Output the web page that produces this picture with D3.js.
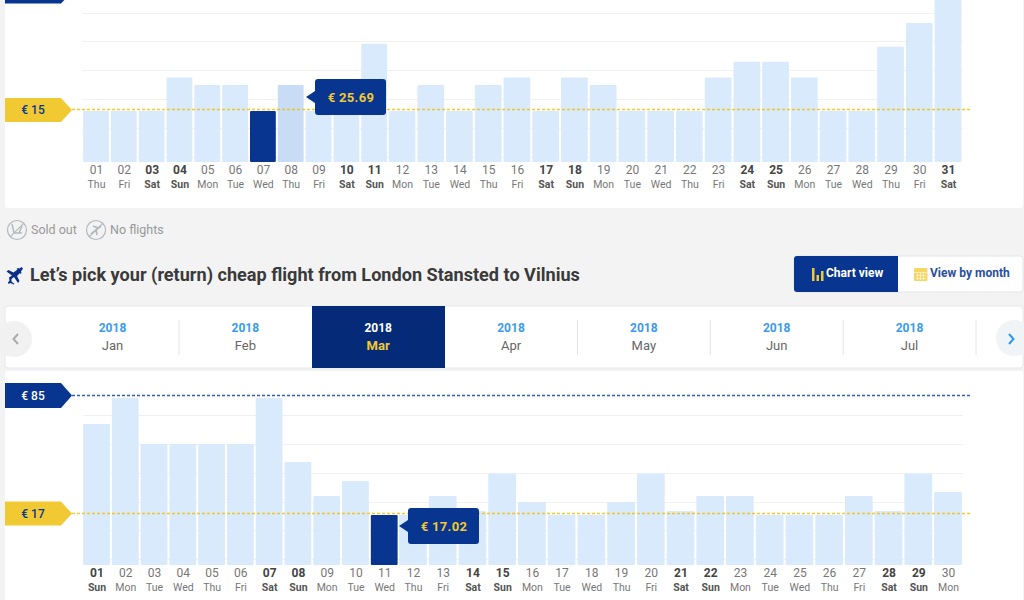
<!DOCTYPE html>
<html>
<head>
    <title></title>
    <style>
        html, body { margin: 0; padding: 0; background: #f3f3f3; overflow: hidden; }
        text { font-family: Roboto, sans-serif; }
    </style>
</head>
<body>
<script src="https://d3js.org/d3.v7.min.js"></script>
<script type="text/javascript">

    var daysOut = ['01','02','03','04','05','06','07','08','09','10','11','12','13','14','15','16','17','18','19','20','21','22','23','24','25','26','27','28','29','30','31'];
    var weekdaysOut = ['Thu','Fri','Sat','Sun','Mon','Tue','Wed','Thu','Fri','Sat','Sun','Mon','Tue','Wed','Thu','Fri','Sat','Sun','Mon','Tue','Wed','Thu','Fri','Sat','Sun','Mon','Tue','Wed','Thu','Fri','Sat'];
    var pricesOut = [15,15,15,28.8,25.69,25.69,15,25.69,15,15,42.6,15,25.69,15,25.69,28.8,15,28.8,25.69,15,15,15,28.8,35.2,35.2,28.8,15,15,41.4,51.2,62.8];

    var daysBack = ['01','02','03','04','05','06','07','08','09','10','11','12','13','14','15','16','17','18','19','20','21','22','23','24','25','26','27','28','29','30'];
    var weekdaysBack = ['Sun','Mon','Tue','Wed','Thu','Fri','Sat','Sun','Mon','Tue','Wed','Thu','Fri','Sat','Sun','Mon','Tue','Wed','Thu','Fri','Sat','Sun','Mon','Tue','Wed','Thu','Fri','Sat','Sun','Mon'];
    var pricesBack = [69.9,85,58.3,58.3,58.3,58.3,85,47.8,28.1,36.8,17.02,17.02,28.1,19.3,41.1,24.6,17.02,17.02,24.6,41.1,19.3,28.1,28.1,17.02,17.02,17.02,28.1,19.3,41.1,30.4];

    var gridOut = [-3.9,8,19.8,31.7,43.6,55.4];
    var gridBack = [-8.5,8.3,24.6,41.4,58.3,75.1];

    var carouselYears = ['2018','2018','2018','2018','2018','2018','2018'];
    var carouselMonths = ['Jan','Feb','Mar','Apr','May','Jun','Jul'];

    var navy = '#073590';
    var yellow = '#f1c933';
    var barBlue = '#d9eafd';

    var canvas = d3.select('body')
                    .append('svg')
                        .attr('width', 1024)
                        .attr('height', 600)
                        .style('display', 'block');

    // white cards
    canvas.append('rect').attr('x', 5).attr('y', -5).attr('width', 1018).attr('height', 213).attr('rx', 3).attr('fill', '#fff');
    canvas.append('rect').attr('x', 5).attr('y', 371).attr('width', 1018).attr('height', 240).attr('rx', 3).attr('fill', '#fff');

    function tag(cy, h, label, bg, fg) {
        var t = h / 2;
        canvas.append('path')
            .attr('d', 'M5 ' + (cy - t) + 'H61L72 ' + cy + 'L61 ' + (cy + t) + 'H5Z')
            .attr('fill', bg);
        canvas.append('text')
            .attr('x', 33).attr('y', cy + 4.5)
            .attr('text-anchor', 'middle')
            .attr('font-size', 12).attr('font-weight', 500)
            .attr('fill', fg)
            .text(label);
    }

    function tooltip(x, y, label) {
        canvas.append('path')
            .attr('d', 'M' + (x + 3) + ' ' + y + 'H' + (x + 68) + 'q3 0 3 3V' + (y + 33) + 'q0 3 -3 3H' + (x + 3) + 'q-3 0 -3 -3V' + (y + 24) + 'L' + (x - 9) + ' ' + (y + 18) + 'L' + x + ' ' + (y + 12) + 'V' + (y + 3) + 'q0 -3 3 -3Z')
            .attr('fill', navy);
        canvas.append('text')
            .attr('x', x + 36).attr('y', y + 22.5)
            .attr('text-anchor', 'middle')
            .attr('font-size', 13).attr('font-weight', 700)
            .attr('letter-spacing', 0.3)
            .attr('fill', yellow)
            .text(label);
    }

    function isWeekend(w) { return w === 'Sat' || w === 'Sun'; }

    // xScale runs on the day index: the reference spacing widens after the 12th
    function drawMonth(days, weekdays, prices, grid, xScale, yScale, baseY, selected, hovered, gridX) {
        var barW = function(i) {
            var j = Math.min(i, days.length - 2);
            return xScale(j + 1) - xScale(j) - 2;
        };

        canvas.append('g').selectAll('line')
            .data(grid)
            .enter()
            .append('line')
                .attr('x1', gridX)
                .attr('x2', 963)
                .attr('y1', function(d) { return Math.round(yScale(d)) + 0.5; })
                .attr('y2', function(d) { return Math.round(yScale(d)) + 0.5; })
                .attr('stroke', '#f1f1f1')
                .attr('stroke-width', 1);

        canvas.append('g').selectAll('rect')
            .data(prices)
            .enter()
            .append('rect')
                .attr('x', function(d, i) { return xScale(i) - barW(i) / 2; })
                .attr('y', function(d) { return yScale(d); })
                .attr('width', function(d, i) { return barW(i); })
                .attr('height', function(d) { return baseY - yScale(d); })
                .attr('rx', 1)
                .attr('fill', function(d, i) {
                    if (i === selected) return navy;
                    if (i === hovered) return '#c8dcf5';
                    return barBlue;
                });

        var axis = d3.axisBottom(xScale)
                    .tickValues(d3.range(days.length))
                    .tickFormat(function(i) { return days[i]; })
                    .tickSize(0)
                    .tickPadding(3);
        var axisG = canvas.append('g')
                        .attr('transform', 'translate(0,' + baseY + ')')
                        .call(axis);
        axisG.select('.domain').remove();
        axisG.selectAll('.tick text')
            .style('font-family', 'Roboto, sans-serif')
            .attr('font-size', 12)
            .attr('font-weight', function(i) { return isWeekend(weekdays[i]) ? 700 : 400; })
            .attr('fill', function(i) { return isWeekend(weekdays[i]) ? '#444' : '#777'; });
        axisG.selectAll('.tick').append('text')
            .attr('y', 26)
            .attr('text-anchor', 'middle')
            .style('font-family', 'Roboto, sans-serif')
            .attr('font-size', 10.5)
            .attr('font-weight', function(i) { return isWeekend(weekdays[i]) ? 700 : 400; })
            .attr('fill', function(i) { return isWeekend(weekdays[i]) ? '#555' : '#777'; })
            .text(function(i) { return weekdays[i]; });
    }

    function dashed(y, color) {
        canvas.append('line')
            .attr('x1', 72).attr('x2', 971)
            .attr('y1', Math.floor(y) + 0.5).attr('y2', Math.floor(y) + 0.5)
            .attr('stroke', color)
            .attr('stroke-width', 1.4)
            .attr('stroke-opacity', 0.85)
            .attr('stroke-dasharray', '3,2');
    }

    // outbound month
    var xOut = d3.scaleLinear().domain([0, 11, 30]).range([96, 402, 948]);
    var yOut = d3.scaleLinear().domain([-5.97, 25.69]).range([162, 85]);
    drawMonth(daysOut, weekdaysOut, pricesOut, gridOut, xOut, yOut, 162, 6, 7, 82);
    dashed(yOut(15) - 1, '#f2c200');
    tag(-8, 23, '', navy, '#fff');
    tag(yOut(15) - 1, 24, '€ 15', yellow, navy);
    tooltip(315, 79, '€ 25.69');

    // return month
    var xBack = d3.scaleLinear().domain([0, 11, 29]).range([96.5, 413, 948]);
    var yBack = d3.scaleLinear().domain([-12, 85]).range([565, 398]);
    drawMonth(daysBack, weekdaysBack, pricesBack, gridBack, xBack, yBack, 565, 10, -1, 83);
    dashed(yBack(85) - 2.5, '#0f3fa5');
    dashed(yBack(17) - 1.5, '#f2c200');
    tag(yBack(85) - 2.5, 25, '€ 85', navy, '#fff');
    tag(yBack(17) - 1.5, 24, '€ 17', yellow, navy);
    tooltip(408, 508, '€ 17.02');

    // legend under first chart
    var iconGrey = '#b4b9bf';
    function legendRing(cx) {
        canvas.append('circle').attr('cx', cx).attr('cy', 230).attr('r', 9.5)
            .attr('fill', 'none').attr('stroke', iconGrey).attr('stroke-width', 1.2);
        canvas.append('line').attr('x1', cx - 6.7).attr('y1', 236.7).attr('x2', cx + 6.7).attr('y2', 223.3)
            .attr('stroke', iconGrey).attr('stroke-width', 1.2);
    }
    legendRing(17);
    legendRing(96);
    // seat
    canvas.append('path').attr('d', 'M12 224l2 9h8M22 226l-3 7')
        .attr('fill', 'none').attr('stroke', iconGrey).attr('stroke-width', 1.5);
    // small plane
    canvas.append('path').attr('d', 'M91 234L101 226M93 226l5 2M96 229l1 6')
        .attr('fill', 'none').attr('stroke', iconGrey).attr('stroke-width', 1.7);
    canvas.append('text').attr('x', 31).attr('y', 233.5).attr('font-size', 12.5).attr('fill', '#999').text('Sold out');
    canvas.append('text').attr('x', 110).attr('y', 233.5).attr('font-size', 12.5).attr('fill', '#999').text('No flights');

    // title
    canvas.append('path')
        .attr('d', 'M6.500 271.500l2-1.500 5 2.500 4-3-1-.5 1.500-1 1.500.5 2-1.500 1.500 1.500-2 3 .5 1.500-1 1-.5-1-3 3 2.500 5-1.500 2-4-6-2.500 2v2.500l3 2.500-1 .5-3-1.500-2 1-.5-1.500 1.500-2-.5-3 3-2z')
        .attr('fill', '#0b2f86');
    canvas.append('text')
        .attr('x', 30).attr('y', 281)
        .attr('font-size', 18.1).attr('font-weight', 700)
        .attr('fill', '#3a3a3a')
        .text('Let\u2019s pick your (return) cheap flight from London Stansted to Vilnius');

    // view buttons
    canvas.append('rect').attr('x', 794).attr('y', 256).attr('width', 229).attr('height', 36).attr('rx', 3)
        .attr('fill', '#fff').attr('stroke', '#e3e5ea');
    canvas.append('path').attr('d', 'M797 256H898V292H797q-3 0 -3 -3V259q0 -3 3 -3Z').attr('fill', navy);
    canvas.append('path').attr('d', 'M812 268h2.500v13h-2.500zM816.500 275h2.500v6h-2.500zM821 271h2.500v10h-2.500z').attr('fill', yellow);
    canvas.append('text').attr('x', 826).attr('y', 277).attr('font-size', 12).attr('font-weight', 700).attr('fill', '#fff').text('Chart view');
    // calendar icon
    canvas.append('rect').attr('x', 914).attr('y', 268).attr('width', 13.500).attr('height', 13).attr('rx', 1).attr('fill', '#f6d765');
    canvas.append('path').attr('d', 'M914 272.500h13.500M916 275.500h9.500M916 278.500h9.500M917.500 273v7M920.500 273v7M923.500 273v7')
        .attr('stroke', '#fdf3cd').attr('stroke-width', 0.8).attr('fill', 'none');
    canvas.append('text').attr('x', 930).attr('y', 277).attr('font-size', 12).attr('font-weight', 700).attr('fill', '#2b4f9e').text('View by month');

    // month carousel
    canvas.append('rect').attr('x', 5).attr('y', 306).attr('width', 1018).attr('height', 62).attr('rx', 3)
        .attr('fill', '#fff').attr('stroke', '#e6e8ec');
    canvas.append('circle').attr('cx', 14).attr('cy', 339).attr('r', 18).attr('fill', '#f1f1f1');
    canvas.append('circle').attr('cx', 1014).attr('cy', 338).attr('r', 18).attr('fill', '#f1f4f7');
    canvas.append('path').attr('d', 'M18 334l-4.500 5 4.500 5').attr('fill', 'none').attr('stroke', '#aaa').attr('stroke-width', 2);
    canvas.append('path').attr('d', 'M1009 334l4.500 5 -4.500 5').attr('fill', 'none').attr('stroke', '#2f97ee').attr('stroke-width', 2);
    canvas.append('rect').attr('x', 312).attr('y', 306).attr('width', 133).attr('height', 62).attr('fill', '#052b78');

    var monthX = d3.scalePoint().domain(carouselMonths).range([112.500, 909.500]);
    var monthCell = canvas.append('g').selectAll('g')
        .data(carouselMonths)
        .enter()
        .append('g')
            .attr('transform', function(d) { return 'translate(' + monthX(d) + ',0)'; });
    monthCell.append('text')
        .attr('y', 332).attr('text-anchor', 'middle')
        .attr('font-size', 12).attr('font-weight', 700)
        .attr('fill', function(d) { return d === 'Mar' ? '#fff' : '#3b9bed'; })
        .text(function(d, i) { return carouselYears[i]; });
    monthCell.append('text')
        .attr('y', 350).attr('text-anchor', 'middle')
        .attr('font-size', 13).attr('font-weight', function(d) { return d === 'Mar' ? 700 : 400; })
        .attr('fill', function(d) { return d === 'Mar' ? yellow : '#666'; })
        .text(function(d) { return d; });
    monthCell.filter(function(d) { return d !== 'Feb' && d !== 'Mar'; })
        .append('line')
        .attr('x1', 66.500).attr('x2', 66.500).attr('y1', 320).attr('y2', 355)
        .attr('stroke', '#e2e2e2');

</script>
</body>
</html>
